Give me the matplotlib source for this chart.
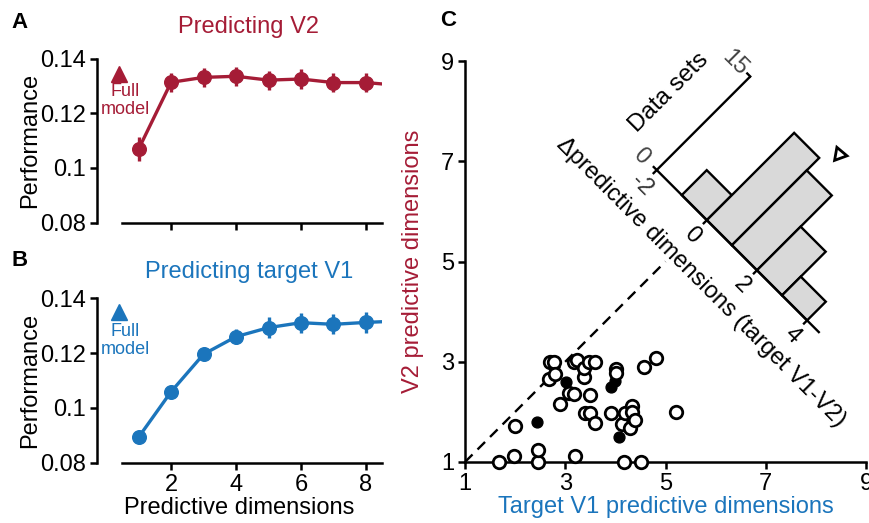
import numpy as np
import matplotlib
matplotlib.use("Agg")
import matplotlib.pyplot as plt
from matplotlib.transforms import Affine2D

plt.rcParams['font.family'] = ['Liberation Sans', 'DejaVu Sans']

# ---------------- data ----------------
dims = [1, 2, 3, 4, 5, 6, 7, 8, 9]
perf_v2 = [0.1069, 0.1313, 0.1331, 0.1335, 0.1321, 0.1325, 0.1312, 0.1312, 0.1302]
err_v2 = [0.0045, 0.0035, 0.0035, 0.0035, 0.0035, 0.0035, 0.0035, 0.0035, 0.0035]
full_v2 = 0.1343

perf_v1 = [0.0893, 0.1059, 0.1196, 0.1260, 0.1293, 0.1311, 0.1305, 0.1312, 0.1317]
err_v1 = [0.0015, 0.0018, 0.0022, 0.0028, 0.0037, 0.0037, 0.0037, 0.0037, 0.0037]
full_v1 = 0.1351

# panel C scatter (target V1 dims, V2 dims)
open_x = [1.67, 1.97, 2.00, 2.45, 2.45, 3.20, 4.17, 4.51, 2.67, 2.70, 2.77, 2.80,
          2.90, 3.07, 3.17, 3.17, 3.23, 3.37, 3.37, 3.47, 3.60, 3.50, 3.40, 3.50,
          3.60, 3.91, 4.02, 4.02, 4.13, 4.20, 4.30, 4.33, 4.33, 4.39, 4.58, 4.82, 5.20]
open_y = [1.00, 1.11, 1.72, 1.00, 1.23, 1.11, 1.00, 1.00, 2.65, 3.00, 3.00, 2.75,
          2.15, 2.38, 2.35, 3.00, 3.03, 2.70, 2.87, 3.00, 3.00, 2.33, 1.98, 1.98,
          1.78, 1.98, 2.85, 2.77, 1.75, 1.98, 1.67, 2.11, 2.00, 1.83, 2.89, 3.07, 1.99]
filled_x = [2.43, 3.02, 3.91, 4.00, 4.07]
filled_y = [1.80, 2.59, 2.50, 2.62, 1.50]

# histogram of delta predictive dimensions (target V1 - V2)
bin_left = [-1, 0, 1, 2, 3]
counts = [4, 14, 12, 7, 3]
delta_ticks = [-2, 0, 2, 4]
delta_ticklabels = ['-2', '0', '2', '4']
count_ticks = [0, 15]
mean_delta = 1.3

RED = '#A51C36'
BLUE = '#1B75BC'
FS = 17

fig = plt.figure(figsize=(8.69, 5.23), dpi=100)
W, H = 869.0, 523.0


def style_perf(ax, show_xlabels):
    ax.set_xlim(-0.29, 8.5)
    ax.set_ylim(0.08, 0.14)
    for s in ['top', 'right']:
        ax.spines[s].set_visible(False)
    for s in ['left', 'bottom']:
        ax.spines[s].set_linewidth(1.8)
    ax.spines['bottom'].set_bounds(0.5, 8.5)
    ax.set_xticks([2, 4, 6, 8])
    ax.set_yticks([0.08, 0.10, 0.12, 0.14])
    ax.set_yticklabels(['0.08', '0.1', '0.12', '0.14'])
    ax.tick_params(direction='out', length=5, width=1.8, labelsize=FS, pad=3)
    if not show_xlabels:
        ax.set_xticklabels([])
    ax.set_ylabel('Performance', fontsize=FS, labelpad=-1)


# ---------------- panel A ----------------
axA = fig.add_axes([96.7 / W, (H - 222.7) / H, 285.5 / W, 164.2 / H])
style_perf(axA, False)
axA.errorbar(dims, perf_v2, yerr=err_v2, fmt='-o', color=RED, ms=9.8, lw=2.4,
             elinewidth=2.4, capsize=0)
axA.plot([0.4], [full_v2], marker='^', color=RED, ms=12, linestyle='none', clip_on=False)
axA.text(0.6, 0.1281, 'Full', color=RED, fontsize=13, ha='center', va='center')
axA.text(0.6, 0.1212, 'model', color=RED, fontsize=13, ha='center', va='center')
axA.text(0.533, 1.194, 'Predicting V2', color=RED, fontsize=FS, ha='center', va='center',
         transform=axA.transAxes)

# ---------------- panel B ----------------
axB = fig.add_axes([96.7 / W, (H - 462.7) / H, 285.5 / W, 164.4 / H])
style_perf(axB, True)
axB.errorbar(dims, perf_v1, yerr=err_v1, fmt='-o', color=BLUE, ms=9.8, lw=2.4,
             elinewidth=2.4, capsize=0)
axB.plot([0.4], [full_v1], marker='^', color=BLUE, ms=12, linestyle='none', clip_on=False)
axB.text(0.6, 0.1280, 'Full', color=BLUE, fontsize=13, ha='center', va='center')
axB.text(0.6, 0.1214, 'model', color=BLUE, fontsize=13, ha='center', va='center')
axB.text(0.533, 1.162, 'Predicting target V1', color=BLUE, fontsize=FS, ha='center',
         va='center', transform=axB.transAxes)
axB.set_xlabel('Predictive dimensions', fontsize=FS, labelpad=1)

# ---------------- panel C ----------------
axC = fig.add_axes([465 / W, (H - 462) / H, 401 / W, 401 / H])
axC.set_xlim(1, 9)
axC.set_ylim(1, 9)
for s in ['top', 'right']:
    axC.spines[s].set_visible(False)
for s in ['left', 'bottom']:
    axC.spines[s].set_linewidth(1.8)
axC.set_xticks([1, 3, 5, 7, 9])
axC.set_yticks([1, 3, 5, 7, 9])
axC.tick_params(direction='out', length=5, width=1.8, labelsize=FS, pad=3)
axC.set_xlabel('Target V1 predictive dimensions', color=BLUE, fontsize=FS, labelpad=1)
axC.set_ylabel('V2 predictive dimensions', color=RED, fontsize=FS, labelpad=12)

axC.plot([1, 5], [1, 5], color='k', lw=1.7, dashes=(4.5, 3), zorder=1)
axC.plot(filled_x, filled_y, 'o', color='k', ms=7.8, linestyle='none', zorder=2,
         clip_on=False)
axC.plot(open_x, open_y, 'o', mfc='white', mec='k', mew=2.0, ms=9.0, linestyle='none',
         zorder=3, clip_on=False)

# rotated histogram inset: (delta, count) -> panel C data coordinates
C0 = 5.825
K = 0.1244
hist_tr = Affine2D(np.array([[0.5, K, C0], [-0.5, K, C0], [0.0, 0.0, 1.0]])) + axC.transData

axC.bar(bin_left, counts, width=1, align='edge', transform=hist_tr, facecolor='#D9D9D9',
        edgecolor='k', linewidth=1.7, clip_on=False, zorder=4)
axC.plot([-2, 4.5], [0, 0], color='k', lw=1.7, transform=hist_tr, clip_on=False, zorder=5,
         solid_capstyle='butt')
axC.plot([-2, -2], [0, 15], color='k', lw=1.7, transform=hist_tr, clip_on=False, zorder=5,
         solid_capstyle='butt')
for d, lab in zip(delta_ticks, delta_ticklabels):
    axC.plot([d, d], [0, -0.5], color='k', lw=1.7, transform=hist_tr, clip_on=False, zorder=5)
    axC.text(d, -2.4, lab, transform=hist_tr, rotation=-45, rotation_mode='anchor',
             ha='center', va='center', fontsize=FS, color='#333333' if d == -2 else 'k')
for n in count_ticks:
    axC.plot([-2, -2.12], [n, n], color='k', lw=1.7, transform=hist_tr, clip_on=False, zorder=5)
    axC.text(-2.58, n - 0.2, str(n), transform=hist_tr, rotation=-45, rotation_mode='anchor',
             ha='center', va='center', fontsize=FS, color='#444444')
axC.text(-3.3, 7.2, 'Data sets', transform=hist_tr, rotation=45, rotation_mode='anchor',
         ha='center', va='center', fontsize=FS + 0.5)
axC.text(1.13, -5.5, '\u0394predictive dimensions (target V1-V2)', transform=hist_tr,
         rotation=-45, rotation_mode='anchor', ha='center', va='center', fontsize=FS)
axC.plot([mean_delta], [15.9], marker=(3, 0, -100), mfc='white', mec='k', mew=2.0, ms=11,
         transform=hist_tr, linestyle='none', clip_on=False, zorder=6)

# panel letters
fig.text(20 / W, 1 - 22.7 / H, 'A', fontsize=16, fontweight='bold', ha='center', va='center')
fig.text(20 / W, 1 - 261 / H, 'B', fontsize=16, fontweight='bold', ha='center', va='center')
fig.text(448 / W, 1 - 21 / H, 'C', fontsize=16, fontweight='bold', ha='center', va='center')

fig.savefig('out.png', dpi=100)
